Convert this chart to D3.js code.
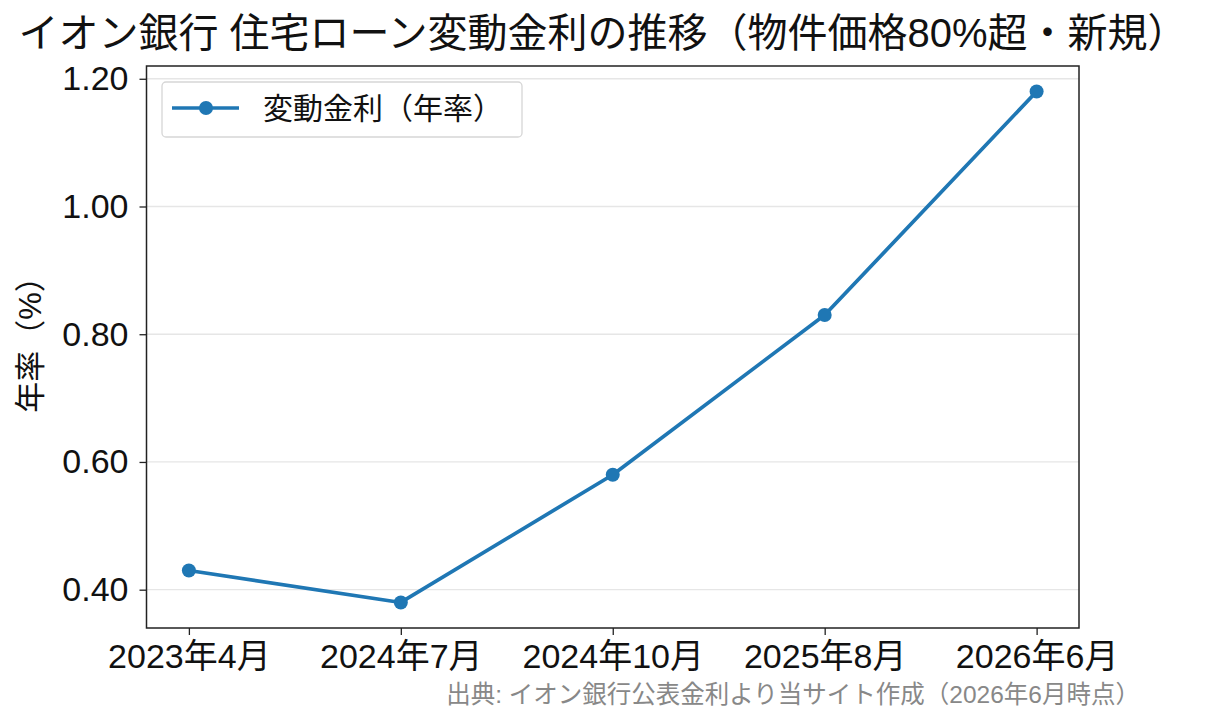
<!DOCTYPE html>
<html lang="ja">
<head>
<meta charset="UTF-8">
<title>イオン銀行 住宅ローン変動金利の推移</title>
<script src="https://d3js.org/d3.v7.min.js"></script>
<style>
	body {margin: 0; background: #fff;}
	text {font-family: "Liberation Sans", "Noto Sans CJK JP", sans-serif;}
</style>
</head>
<body>
<div id="chart"></div>
<script>
	// data
	const periods = ["2023年4月", "2024年7月", "2024年10月", "2025年8月", "2026年6月"];
	const rates = [0.43, 0.38, 0.58, 0.83, 1.18];
	const yTicks = [0.40, 0.60, 0.80, 1.00, 1.20];

	const width = 1219, height = 725;
	const mLeft = 146.5, mRight = 1079, mTop = 66, mBottom = 628;
	const fontStack = "\"Liberation Sans\", \"Noto Sans CJK JP\", sans-serif";

	const svg = d3.select("#chart").append("svg")
		.attr("width", width)
		.attr("height", height);

	// matplotlib style 5% margins
	const x = d3.scaleLinear()
		.domain([-0.2, periods.length - 1 + 0.2])
		.range([mLeft, mRight]);
	const yMin = d3.min(rates), yMax = d3.max(rates);
	const pad = (yMax - yMin) * 0.05;
	const y = d3.scaleLinear()
		.domain([yMin - pad, yMax + pad])
		.range([mBottom, mTop]);

	// grid
	svg.append("g").selectAll("line")
		.data(yTicks)
		.enter().append("line")
			.attr("x1", mLeft).attr("x2", mRight)
			.attr("y1", d => y(d)).attr("y2", d => y(d))
			.attr("stroke", "#e6e6e6")
			.attr("stroke-width", 1.3);

	// axes
	const xAxis = svg.append("g")
		.attr("transform", `translate(0,${mBottom})`)
		.call(d3.axisBottom(x).tickValues(d3.range(periods.length)).tickFormat(i => periods[i]).tickSizeOuter(0).tickSize(7).tickPadding(9));
	const yAxis = svg.append("g")
		.attr("transform", `translate(${mLeft},0)`)
		.call(d3.axisLeft(y).tickValues(yTicks).tickFormat(d3.format(".2f")).tickSizeOuter(0).tickSize(7).tickPadding(11));
	[xAxis, yAxis].forEach(a => {
		a.select(".domain").remove();
		a.selectAll("line").attr("stroke", "#222").attr("stroke-width", 1.3);
		a.selectAll("text").attr("font-size", "34px").attr("fill", "#111")
			.attr("font-family", fontStack);
	});

	// frame
	svg.append("rect")
		.attr("x", mLeft).attr("y", mTop)
		.attr("width", mRight - mLeft).attr("height", mBottom - mTop)
		.attr("fill", "none")
		.attr("stroke", "#222")
		.attr("stroke-width", 1.5);

	// line and points
	const line = d3.line()
		.x((d, i) => x(i))
		.y(d => y(d));
	svg.append("path")
		.datum(rates)
		.attr("d", line)
		.attr("fill", "none")
		.attr("stroke", "#1f77b4")
		.attr("stroke-width", 3.7)
		.attr("stroke-linejoin", "round");
	svg.selectAll("circle.pt")
		.data(rates)
		.enter().append("circle")
			.attr("class", "pt")
			.attr("cx", (d, i) => x(i))
			.attr("cy", d => y(d))
			.attr("r", 7)
			.attr("fill", "#1f77b4");

	// title
	svg.append("text")
		.attr("x", 603)
		.attr("y", 47)
		.attr("text-anchor", "middle")
		.attr("font-size", "40px")
		.attr("fill", "#111")
		.text("イオン銀行 住宅ローン変動金利の推移（物件価格80%超・新規）");

	// y label
	svg.append("text")
		.attr("transform", "translate(41,337) rotate(-90)")
		.attr("text-anchor", "middle")
		.attr("font-size", "31px")
		.attr("fill", "#111")
		.text("年率（%）");

	// legend
	const lg = svg.append("g").attr("transform", "translate(162,82)");
	lg.append("rect")
		.attr("width", 360).attr("height", 55)
		.attr("rx", 4)
		.attr("fill", "#fff")
		.attr("stroke", "#d6d6d6")
		.attr("stroke-width", 1.3);
	lg.append("line")
		.attr("x1", 10).attr("x2", 77).attr("y1", 26).attr("y2", 26)
		.attr("stroke", "#1f77b4").attr("stroke-width", 3.7);
	lg.append("circle")
		.attr("cx", 44).attr("cy", 26).attr("r", 7)
		.attr("fill", "#1f77b4");
	lg.append("text")
		.attr("x", 101).attr("y", 37)
		.attr("font-size", "30px")
		.attr("fill", "#111")
		.text("変動金利（年率）");

	// source note
	svg.append("text")
		.attr("x", 1140).attr("y", 703)
		.attr("text-anchor", "end")
		.attr("font-size", "24.5px")
		.attr("fill", "#888")
		.text("出典: イオン銀行公表金利より当サイト作成（2026年6月時点）");
</script>
</body>
</html>
